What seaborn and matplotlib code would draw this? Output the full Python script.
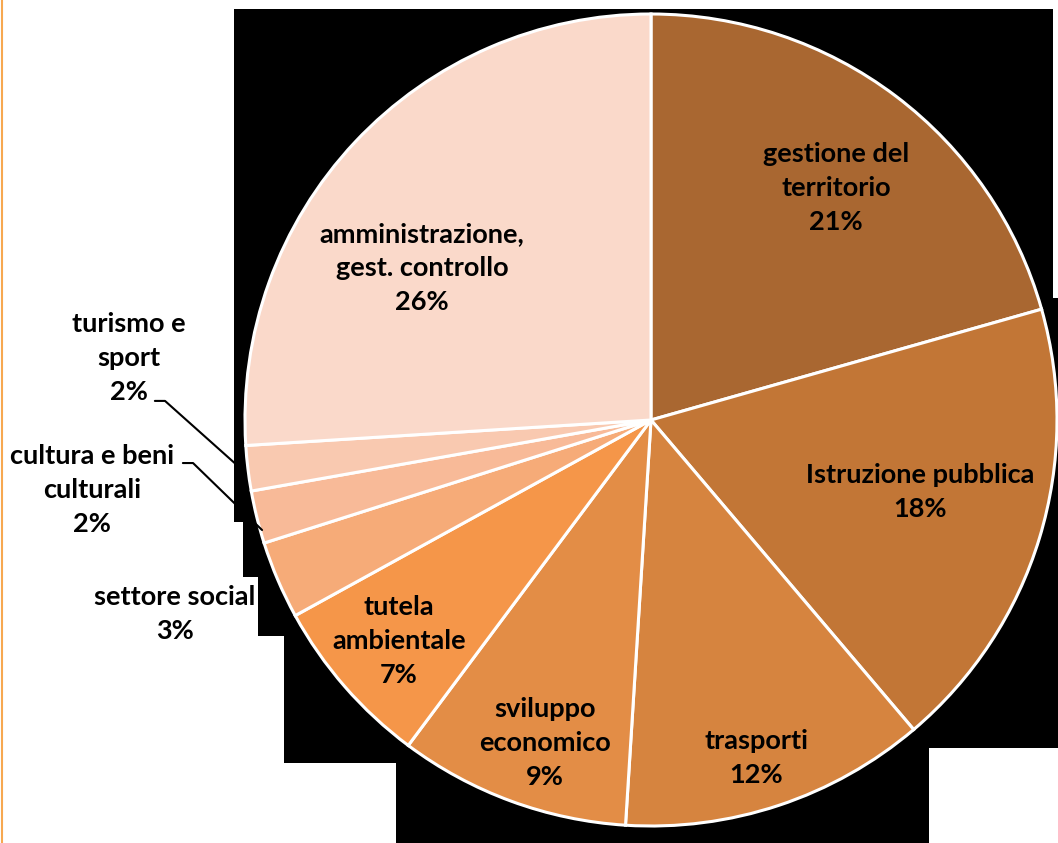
import matplotlib
matplotlib.use("Agg")
import matplotlib.pyplot as plt
from matplotlib.patches import Polygon
from matplotlib.lines import Line2D
import seaborn as sns

# ===============================
# DATA
# ===============================
sectors = [
    "gestione del\nterritorio",
    "Istruzione pubblica",
    "trasporti",
    "sviluppo\neconomico",
    "tutela\nambientale",
    "settore social",
    "cultura e beni\nculturali",
    "turismo e\nsport",
    "amministrazione,\ngest. controllo",
]
shares = [20.6, 18.2, 12.2, 9.2, 6.8, 3.1, 2.1, 1.8, 26.0]
slice_colors = [
    "#A96731", "#C27636", "#D6843F", "#E38D46", "#F59649",
    "#F6AB78", "#F8BA98", "#F9C9B0", "#FAD9CA",
]

# label anchor positions, in units of the pie radius
label_xy = [
    (0.456, 0.571), (0.663, -0.177), (0.259, -0.833), (-0.261, -0.796),
    (-0.621, -0.544), (-1.172, -0.478), (-1.377, -0.172), (-1.286, 0.153),
    (-0.564, 0.374),
]

# ===============================
# FIGURE
# ===============================
sns.set_theme(style="white")
plt.rcParams["font.family"] = ["Lato", "DejaVu Sans"]

W, H = 1058, 843
fig = plt.figure(figsize=(W / 100, H / 100), dpi=100)
fig.patch.set_facecolor("white")

ax = fig.add_axes([0, 0, 1, 1])
ax.set_facecolor("none")

# black backdrop (transparent area of the original export)
bg = [(234, 9), (1053, 9), (1053, 298), (1058, 298), (1058, 748), (929, 748),
      (929, 843), (396, 843), (396, 763), (284, 763), (284, 636), (258, 636),
      (258, 577), (243, 577), (243, 522), (234, 522)]
ax.add_patch(Polygon([(x / W, 1 - y / H) for x, y in bg], closed=True,
                     transform=fig.transFigure, facecolor="black",
                     edgecolor="none", zorder=-5))
ax.add_line(Line2D([2 / W, 2 / W], [0, 1], transform=fig.transFigure,
                   color="#F7A850", lw=1.5, zorder=-5))

cx, cy, R = 651, 420, 406
ax.pie(shares, colors=sns.color_palette(slice_colors), startangle=90,
       counterclock=False, radius=1,
       wedgeprops=dict(edgecolor="white", linewidth=2.2))

ax.set_xlim(-cx / R, (W - cx) / R)
ax.set_ylim(-(H - cy) / R, cy / R)
ax.set_aspect("equal")
ax.axis("off")

for name, pct, (lx, ly) in zip(sectors, shares, label_xy):
    ax.text(lx, ly, f"{name}\n{round(pct)}%", ha="center", va="center",
            fontsize=19.5, fontweight="bold", color="black", linespacing=1.5)

# leader lines for the two thin slices
ax.plot([-1.222, -1.197, -1.020], [0.047, 0.047, -0.111], color="black", lw=1.5)
ax.plot([-1.153, -1.128, -0.958], [-0.106, -0.106, -0.271], color="black", lw=1.5)

fig.savefig("out.png", dpi=100, facecolor=fig.get_facecolor())
